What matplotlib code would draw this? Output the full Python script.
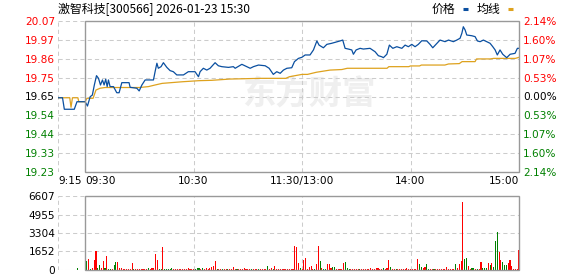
import numpy as np
import matplotlib
matplotlib.use('Agg')
import matplotlib.pyplot as plt
from matplotlib.patches import Rectangle
from matplotlib.lines import Line2D

plt.rcParams['font.family'] = ['DejaVu Sans']
cjk = ['Noto Sans CJK SC', 'DejaVu Sans']

# ---- data (minutes from 09:30, premarket is negative) ----
pre_close = 19.65
price_min = [-15, -12.5, -11.5, -6, -4.5, 0, 1.3, 2.8, 4, 5.1, 6.3, 7.4, 8.5, 9.6, 10.5, 11.4,
             12.2, 12.9, 13.8, 15.7, 17.5, 18.8, 20.3, 24.3, 24.9, 28.6, 29.9, 31.4, 33.2, 37.8,
             38.7, 39.7, 40.5, 42, 43.3, 45.2, 47, 48.8, 50.7, 54.4, 57.1, 60.8, 62.7, 63.6, 65.4,
             67.3, 69.1, 71.9, 73.7, 75.6, 79.3, 82, 83, 86.7, 89.4, 91.3, 93.1, 95.9, 99.6, 101.8,
             104.1, 106, 107.9, 109.7, 111.6, 114.3, 115.8, 118, 119.9, 121.7, 124.4, 126.3, 128.2,
             129.4, 131.8, 133.7, 136.4, 141, 142.5, 143.8, 145.6, 147.5, 148.4, 149.9, 152.1,
             153.9, 157.6, 160.4, 162.2, 164.1, 165, 166.9, 168.3, 170.2, 172.4, 175.2, 177, 178.8,
             180.7, 182.5, 184.3, 186.2, 189, 190.8, 192.3, 194.1, 196.3, 199.1, 201, 203.7, 205.6,
             207.4, 208.4, 209.2, 210.2, 211.1, 213.9, 215.7, 217, 218.5, 220.3, 222.2, 224, 225.5,
             226.8, 228, 229.5, 231, 233.2, 235.1, 237.8, 239.1, 240]
price = [19.643, 19.643, 19.579, 19.579, 19.621, 19.621, 19.597, 19.649, 19.658, 19.714, 19.766,
         19.751, 19.714, 19.742, 19.714, 19.746, 19.705, 19.742, 19.705, 19.705, 19.671, 19.671,
         19.727, 19.727, 19.701, 19.696, 19.681, 19.714, 19.742, 19.742, 19.788, 19.835, 19.807,
         19.816, 19.838, 19.812, 19.794, 19.788, 19.770, 19.770, 19.788, 19.788, 19.760, 19.788,
         19.807, 19.797, 19.807, 19.838, 19.821, 19.816, 19.812, 19.816, 19.807, 19.829, 19.816,
         19.807, 19.816, 19.825, 19.821, 19.807, 19.773, 19.788, 19.779, 19.797, 19.807, 19.810,
         19.844, 19.862, 19.868, 19.881, 19.881, 19.909, 19.959, 19.936, 19.921, 19.940, 19.946,
         19.959, 19.964, 19.918, 19.914, 19.909, 19.885, 19.909, 19.918, 19.914, 19.918, 19.899,
         19.877, 19.871, 19.866, 19.885, 19.936, 19.918, 19.927, 19.918, 19.936, 19.927, 19.940,
         19.927, 19.940, 19.960, 19.959, 19.940, 19.921, 19.940, 19.964, 19.955, 19.964, 19.955,
         19.964, 19.974, 20.002, 20.038, 20.020, 19.992, 19.988, 19.983, 19.959, 19.955, 19.964,
         19.955, 19.946, 19.927, 19.909, 19.881, 19.909, 19.885, 19.866, 19.885, 19.890, 19.918,
         19.918]

avg_min = [-15, -8.5, -7.8, -7, -4, -3.5, 0, 1, 4.4, 6, 8.3, 11, 30, 35, 38.7, 42.6, 53.7, 63, 70,
           80, 97, 111, 113, 120, 123, 128, 135.5, 142, 145, 167, 168, 179, 180, 185, 186, 199,
           201, 207, 208.5, 215.7, 216.5, 224, 226, 238, 240]
avg = [19.643, 19.643, 19.590, 19.643, 19.643, 19.621, 19.621, 19.640, 19.640, 19.686, 19.696,
       19.700, 19.700, 19.705, 19.714, 19.723, 19.732, 19.738, 19.740, 19.747, 19.751, 19.751,
       19.760, 19.773, 19.773, 19.785, 19.797, 19.800, 19.807, 19.807, 19.816, 19.816, 19.820,
       19.820, 19.825, 19.825, 19.831, 19.833, 19.844, 19.844, 19.859, 19.859, 19.862, 19.862,
       19.868]

# one volume bar per minute, 09:30..15:00 (r = up, g = down)
volume = [0, 800, 980, 100, 150, 890, 1700, 200, 450, 200,
          800, 200, 1250, 100, 100, 100, 450, 690, 690, 150,
          200, 100, 100, 100, 100, 100, 600, 100, 100, 100,
          100, 100, 100, 100, 100, 150, 100, 150, 200, 1430,
          890, 100, 100, 2050, 100, 100, 100, 100, 150, 100,
          100, 100, 100, 100, 100, 100, 100, 200, 100, 100,
          100, 100, 200, 150, 100, 200, 100, 200, 100, 150,
          250, 350, 800, 100, 100, 100, 100, 100, 100, 100,
          100, 100, 300, 100, 100, 100, 100, 100, 200, 100,
          100, 100, 100, 100, 100, 100, 100, 100, 100, 100,
          100, 380, 100, 200, 100, 380, 100, 100, 100, 100,
          100, 100, 100, 100, 100, 100, 2140, 2050, 600, 150,
          100, 890, 1100, 100, 250, 390, 100, 100, 500, 2140,
          800, 150, 100, 100, 540, 540, 150, 250, 250, 100,
          100, 100, 100, 600, 700, 200, 100, 100, 100, 100,
          100, 100, 100, 100, 100, 100, 100, 100, 200, 100,
          100, 200, 150, 100, 100, 150, 100, 200, 890, 250,
          100, 100, 100, 100, 100, 100, 100, 100, 200, 100,
          100, 100, 100, 100, 980, 500, 300, 200, 300, 540,
          100, 100, 100, 100, 100, 100, 100, 100, 100, 100,
          300, 100, 100, 100, 100, 540, 150, 540, 800, 6100,
          980, 1070, 380, 100, 150, 150, 100, 100, 100, 700,
          150, 150, 150, 600, 450, 600, 250, 2590, 3360, 1580,
          890, 700, 450, 450, 600, 890, 390, 100, 100, 100,
          1790]
vol_dir = ''.join([
    'rgrgrrrggr', 'rgrggrggrr', 'rrrrrrrgrr', 'rrrrrgrrrr', 'rggrgggggr',
    'rrrrrrrrrr', 'rgggrgrrrr', 'rrrgrrgrrg', 'rrrrgrrrrr', 'rrgrrrgrrr',
    'rgrrgrrrrr', 'rrrrrrrrrg', 'rrrrrrrgrr', 'grggrrrggr', 'rrrrgggrrr',
    'rrgrrrrrrr', 'rrrrrgrrrg', 'rrgrrrrrrr', 'rrrrrggrrg', 'grrgrrrrrr',
    'rrrrrgrrrr', 'ggrrggrgrr', 'gggrgrgggr', 'rgggrrrrrr', 'r'])
pre_vol_min = [-4]
pre_vol = [150]

price_levels = [19.23, 19.335, 19.44, 19.545, 19.65, 19.755, 19.86, 19.965, 20.07]
price_labels = ['19.23', '19.33', '19.44', '19.54', '19.65', '19.75', '19.86', '19.97', '20.07']
pct_labels = ['2.14%', '1.60%', '1.07%', '0.53%', '0.00%', '0.53%', '1.07%', '1.60%', '2.14%']
vol_levels = [0, 1652, 3304, 4955, 6607]
vol_labels = ['0', '1652', '3304', '4955', '6607']
time_ticks = [-15, 0, 60, 120, 180, 240]
time_labels = ['9:15', '09:30', '10:30', '11:30/13:00', '14:00', '15:00']

RED, GREEN, BLUE, GOLD = '#ff0000', '#008000', '#0a4fa0', '#dea21e'
GRID, FRAME = '#cccccc', '#999999'
dash = (0, (4, 3))

W, H = 578, 276
def rect(x0, y0, x1, y1):
    return [x0 / W, 1 - y1 / H, (x1 - x0) / W, (y1 - y0) / H]

fig = plt.figure(figsize=(W / 100, H / 100), dpi=100)
fig.patch.set_facecolor('white')

# ---------- price panel ----------
ax = fig.add_axes(rect(58, 21, 519, 172))
ax.set_xlim(-15, 240)
ax.set_ylim(19.23, 20.07)
for s in ax.spines.values():
    s.set_visible(False)
ax.hlines(price_levels, -15, 240, colors=GRID, linestyles=dash, lw=0.75, zorder=1)
ax.vlines([-15, 60, 120, 180], 19.23, 20.07, colors=GRID, linestyles=dash, lw=0.75, zorder=1)
ax.add_patch(Rectangle((0, 19.23), 240, 0.84, fill=False, ec=FRAME, lw=1.0, zorder=4, clip_on=False))

ax.text(124, 19.658, '东方财富', family=cjk, fontsize=24, fontweight='bold', color='#efefef',
        ha='center', va='center', zorder=0)

ax.plot(avg_min, avg, color=GOLD, lw=0.9, zorder=3)
ax.plot(price_min, price, color=BLUE, lw=0.9, zorder=3)

lab_cols = [GREEN] * 4 + ['black'] + [RED] * 4
ax.set_yticks(price_levels)
ax.set_yticklabels(price_labels)
ax.tick_params(axis='y', length=0, pad=2.2, labelsize=7.6)
for t, c in zip(ax.get_yticklabels(), lab_cols):
    t.set_color(c)

ax.set_xticks(time_ticks)
ax.set_xticklabels(time_labels)
ax.tick_params(axis='x', length=0, pad=3, labelsize=7.6)
for t, ha in zip(ax.get_xticklabels(), ['left', 'left', 'center', 'center', 'center', 'right']):
    t.set_ha(ha)

ax2 = ax.twinx()
ax2.set_ylim(ax.get_ylim())
for s in ax2.spines.values():
    s.set_visible(False)
ax2.set_yticks(price_levels)
ax2.set_yticklabels(pct_labels)
ax2.tick_params(axis='y', length=0, pad=3, labelsize=7.6)
for t, c in zip(ax2.get_yticklabels(), lab_cols):
    t.set_color(c)

# ---------- volume panel ----------
axv = fig.add_axes(rect(58, 196, 519, 270))
axv.set_xlim(-15, 240)
axv.set_ylim(0, 6607)
for s in axv.spines.values():
    s.set_visible(False)
axv.hlines(vol_levels, -15, 240, colors=GRID, linestyles=dash, lw=0.75, zorder=1)
axv.vlines([-15, 60, 120, 180], 0, 6607, colors=GRID, linestyles=dash, lw=0.75, zorder=1)
axv.add_patch(Rectangle((0, 0), 240, 6607, fill=False, ec=FRAME, lw=1.0, zorder=4, clip_on=False))

vol_min = np.arange(len(volume))
bar_cols = [RED if d == 'r' else GREEN for d in vol_dir]
axv.bar(vol_min, volume, width=0.6, color=bar_cols, lw=0, zorder=3)
axv.bar(pre_vol_min, pre_vol, width=0.6, color=GREEN, lw=0, zorder=3)

axv.set_yticks(vol_levels)
axv.set_yticklabels(vol_labels)
axv.tick_params(axis='y', length=0, pad=2.2, labelsize=7.6, colors='black')
axv.set_xticks([])

# ---------- title and legend ----------
fig.text(58 / W, 1 - 9 / H, '激智科技[300566] 2026-01-23 15:30', family=cjk, fontsize=8.6,
         va='center', ha='left', color='black')
fig.text(432 / W, 1 - 9 / H, '价格', family=cjk, fontsize=8.6, va='center', ha='left')
fig.text(477 / W, 1 - 9 / H, '均线', family=cjk, fontsize=8.6, va='center', ha='left')
fig.add_artist(Line2D([463 / W, 468 / W], [1 - 8.5 / H] * 2, color=BLUE, lw=2.2,
                      solid_capstyle='butt'))
fig.add_artist(Line2D([508 / W, 513 / W], [1 - 8.5 / H] * 2, color=GOLD, lw=2.2,
                      solid_capstyle='butt'))

fig.savefig('out.png', dpi=100)
